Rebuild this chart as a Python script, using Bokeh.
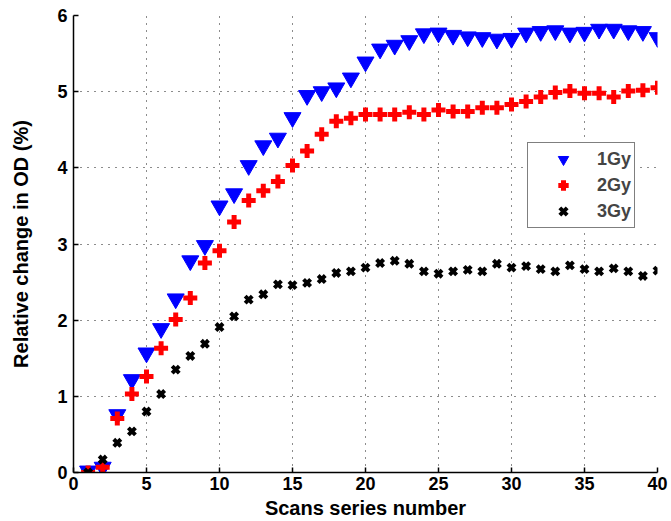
from bokeh.plotting import figure
from bokeh.models import Legend, LegendItem, FixedTicker, Range1d
from bokeh.embed import file_html
from bokeh.resources import INLINE

scans = list(range(1, 41))
gy1 = [0.02, 0.07, 0.76, 1.22, 1.57, 1.89, 2.28, 2.78, 2.98, 3.50,
       3.66, 4.03, 4.29, 4.39, 4.66, 4.95, 5.00, 5.05, 5.18, 5.39,
       5.56, 5.61, 5.67, 5.76, 5.77, 5.74, 5.72, 5.71, 5.69, 5.70,
       5.77, 5.79, 5.80, 5.77, 5.78, 5.82, 5.82, 5.80, 5.79, 5.71]
gy2 = [0.00, 0.07, 0.71, 1.03, 1.26, 1.63, 2.01, 2.29, 2.75, 2.91,
       3.29, 3.57, 3.70, 3.82, 4.03, 4.22, 4.44, 4.61, 4.65, 4.70,
       4.70, 4.70, 4.73, 4.70, 4.76, 4.74, 4.74, 4.79, 4.79, 4.83,
       4.87, 4.93, 4.99, 5.01, 4.98, 4.98, 4.93, 5.01, 5.02, 5.05]
gy3 = [0.00, 0.17, 0.39, 0.54, 0.80, 1.03, 1.35, 1.53, 1.69, 1.91,
       2.05, 2.27, 2.34, 2.47, 2.46, 2.49, 2.54, 2.62, 2.64, 2.69,
       2.75, 2.78, 2.74, 2.64, 2.61, 2.64, 2.66, 2.64, 2.74, 2.69,
       2.71, 2.67, 2.64, 2.72, 2.67, 2.64, 2.68, 2.64, 2.58, 2.65]
labels = ["1Gy", "2Gy", "3Gy"]
x_ticks = [0, 5, 10, 15, 20, 25, 30, 35, 40]
y_ticks = [0, 1, 2, 3, 4, 5, 6]

FONT = "Liberation Sans"

p = figure(frame_width=584, frame_height=457, min_border_left=73, min_border_right=14,
           min_border_top=15, min_border_bottom=49,
           x_range=Range1d(0, 40), y_range=Range1d(0, 6),
           output_backend="svg", toolbar_location=None,
           background_fill_color="white", border_fill_color="white")
p.outline_line_color = None

r1 = p.scatter(scans, gy1, marker="inverted_triangle", size=17, fill_color="#0000ff",
               line_color="#0000ff", line_width=1)
r2 = p.scatter(scans, gy2, marker="cross", size=14, line_color="#ff0000", line_width=5)
r3 = p.scatter(scans, gy3, marker="x", size=10, line_color="black", line_width=4)

for ax in (p.xaxis[0], p.yaxis[0]):
    ax.axis_line_color = "black"
    ax.axis_line_width = 1.5
    ax.major_tick_line_color = "black"
    ax.major_tick_line_width = 1.5
    ax.major_tick_in = 5
    ax.major_tick_out = 0
    ax.minor_tick_line_color = None
    ax.major_label_text_font = FONT
    ax.major_label_text_font_style = "bold"
    ax.major_label_text_font_size = "18px"
    ax.major_label_text_color = "black"
    ax.axis_label_text_font = FONT
    ax.axis_label_text_font_style = "bold"
    ax.axis_label_text_font_size = "20px"
    ax.axis_label_text_color = "black"

p.xaxis.ticker = FixedTicker(ticks=x_ticks)
p.yaxis.ticker = FixedTicker(ticks=y_ticks)
p.xaxis.axis_label = "Scans series number"
p.yaxis.axis_label = "Relative change in OD (%)"
p.xaxis.major_label_standoff = 4
p.xaxis.axis_label_standoff = 4
p.yaxis.major_label_standoff = 6
p.yaxis.axis_label_standoff = 22

for g in (p.xgrid[0], p.ygrid[0]):
    g.grid_line_color = "black"
    g.grid_line_dash = "1 6"
    g.grid_line_width = 1
    g.grid_line_alpha = 0.9

legend = Legend(items=[LegendItem(label=labels[0], renderers=[r1]),
                       LegendItem(label=labels[1], renderers=[r2]),
                       LegendItem(label=labels[2], renderers=[r3])],
                location=(454, 244))
legend.border_line_color = "black"
legend.border_line_width = 1.5
legend.background_fill_color = "white"
legend.background_fill_alpha = 1
legend.padding = 3
legend.margin = 0
legend.glyph_width = 64
legend.glyph_height = 26
legend.spacing = 0
legend.label_standoff = 2
legend.label_text_font = FONT
legend.label_text_font_style = "bold"
legend.label_text_font_size = "18px"
legend.label_height = 26
p.add_layout(legend, "center")

open("out.html", "w").write(file_html(p, INLINE))
